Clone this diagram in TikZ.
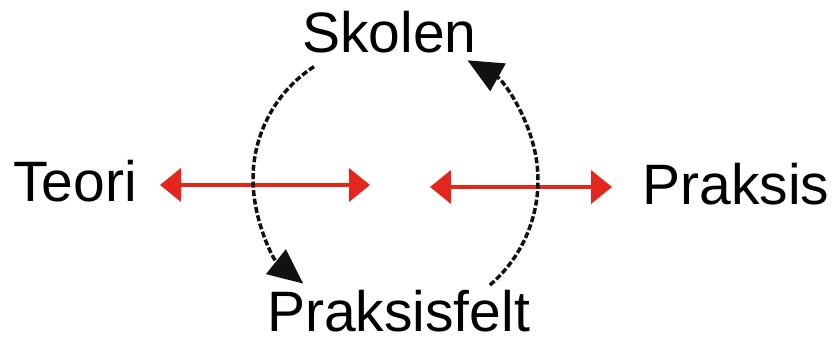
\documentclass[tikz,border=0pt]{standalone}
\usepackage{fontspec}
\setmainfont{Liberation Sans}
\usetikzlibrary{arrows.meta,calc}
\definecolor{arrred}{RGB}{228,38,28}
\definecolor{arrblack}{RGB}{17,17,17}
\begin{document}
\begin{tikzpicture}[x=1pt,y=1pt,
  label/.style={inner sep=0pt, anchor=base, font=\fontsize{57}{60}\selectfont},
  redarrow/.style={draw=arrred, line width=4pt, {Triangle[length=21pt,width=33pt]}-{Triangle[length=21pt,width=33pt]}},
  cyclearrow/.style={draw=arrblack, line width=3.5pt, dash pattern=on 6pt off 2.5pt, -{Triangle[length=35pt,width=31pt]}}
]
\useasboundingbox (0,0) rectangle (832,340);
\fill[white] (0,0) rectangle (832,340);

\node[label] (skolen) at (389.5,287) {Skolen};
\node[label] (teori) at (75,138) {Teori};
\node[label] (praksis) at (736,135) {Praksis};
\node[label] (praksisfelt) at (398.5,9) {Praksisfelt};

% red double arrows
\coordinate (tl) at (160,155);
\coordinate (tr) at (370,155);
\coordinate (pl) at (430,153);
\coordinate (pr) at (612,153);
\path[redarrow] (tl) -- (tr);
\path[redarrow] (pl) -- (pr);

% dashed cycle arcs
\coordinate (ls) at ($(387,161)+(123:134)$);
\coordinate (rs) at ($(400.3,159.5)+(-49.4:137.7)$);
\draw[cyclearrow] (ls) arc[start angle=123, end angle=231.3, radius=134];
\draw[cyclearrow] (rs) arc[start angle=-49.4, end angle=60.8, radius=137.7];
\end{tikzpicture}
\end{document}
